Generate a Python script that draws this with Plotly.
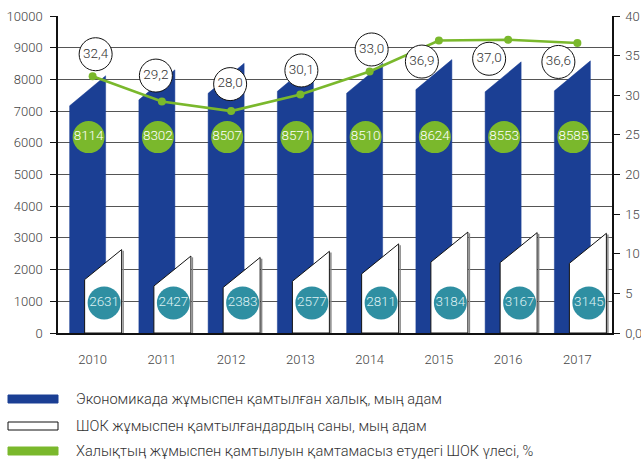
import plotly.graph_objects as go

# ---------------- data ----------------
years = ["2010", "2011", "2012", "2013", "2014", "2015", "2016", "2017"]
employed = [8114, 8302, 8507, 8571, 8510, 8624, 8553, 8585]          # thousand people
sme_employed = [2631, 2427, 2383, 2577, 2811, 3184, 3167, 3145]     # thousand people
sme_share = [32.4, 29.2, 28.0, 30.1, 33.0, 36.9, 37.0, 36.6]        # %
share_labels = ["32,4", "29,2", "28,0", "30,1", "33,0", "36,9", "37,0", "36,6"]

legend_names = [
    "Экономикада жұмыспен қамтылған халық, мың адам",
    "ШОК жұмыспен қамтылғандардың саны, мың адам",
    "Халықтың жұмыспен қамтылуын қамтамасыз етудегі ШОК үлесі, %",
]
y2_tickvals = [0, 5, 10, 15, 20, 25, 30, 35, 40]
y2_ticktext = ["0,0", "5", "10", "15", "20", "25", "30", "35", "40"]

# ---------------- style ----------------
W, H = 641, 460
ML, MR, MT, MB = 58, 29, 16, 127
PW, PH = W - ML - MR, H - MT - MB
N = len(years)
PX_X = PW / N                # px per category unit
PX_Y1 = PH / 10000           # px per thousand people
PX_Y2 = PH / 40              # px per percent

BLUE = "#1b3f94"
GREEN = "#7ab82c"
TEAL = "#2f8fa2"
FONT = "Roboto"
WT = 300

# bar geometry (in px, relative to category centre)
BLUE_L, BLUE_R = -23, 13
WHITE_L, WHITE_R = -8, 29
SLANT_PX = 30                # rise of slanted top in px
# label offsets (px) of line labels from markers
lab_dx = [3, -6, -1, 1, 2, -17, -19, -19]
lab_dy = [-22, -26, -27, -24, -22, 21, 19, 19]

idx = list(range(N))
fig = go.Figure()


def poly(values, left_px, right_px):
    xs, ys = [], []
    slant = SLANT_PX / PX_Y1
    for i, v in enumerate(values):
        xl = i + left_px / PX_X
        xr = i + right_px / PX_X
        xs += [xl, xl, xr, xr, xl, None]
        ys += [0, v - slant, v, 0, 0, None]
    return xs, ys


bx, by = poly(employed, BLUE_L, BLUE_R)
fig.add_trace(go.Scatter(x=bx, y=by, fill="toself", fillcolor=BLUE, mode="lines",
                         line=dict(color=BLUE, width=0.5), hoverinfo="skip", showlegend=False))

wx, wy = poly(sme_employed, WHITE_L, WHITE_R)
fig.add_trace(go.Scatter(x=wx, y=wy, fill="toself", fillcolor="white", mode="lines",
                         line=dict(color="#111", width=1), hoverinfo="skip", showlegend=False))
# grey shadow on the right edge of white bars
gx, gy = [], []
for i, v in enumerate(sme_employed):
    xr = i + (WHITE_R + 1.5) / PX_X
    gx += [xr, xr, None]
    gy += [0, v - 40, None]
fig.add_trace(go.Scatter(x=gx, y=gy, mode="lines", line=dict(color="#888", width=1.5),
                         hoverinfo="skip", showlegend=False))

# value circles on bars
fig.add_trace(go.Scatter(
    x=[i + ((BLUE_L + BLUE_R) / 2 + 1) / PX_X for i in idx], y=[6180] * N,
    mode="markers+text", marker=dict(size=32, color=GREEN),
    text=[str(v) for v in employed], textposition="middle center",
    textfont=dict(family=FONT, size=13.5, color="white", weight=WT),
    hoverinfo="skip", showlegend=False))
fig.add_trace(go.Scatter(
    x=[i + ((WHITE_L + WHITE_R) / 2 + 1) / PX_X for i in idx], y=[950] * N,
    mode="markers+text", marker=dict(size=33, color=TEAL),
    text=[str(v) for v in sme_employed], textposition="middle center",
    textfont=dict(family=FONT, size=13.5, color="#dff1f3", weight=WT),
    hoverinfo="skip", showlegend=False))

# share line
fig.add_trace(go.Scatter(x=idx, y=sme_share, yaxis="y2", mode="lines+markers",
                         line=dict(color=GREEN, width=2.6), marker=dict(size=8, color=GREEN),
                         hoverinfo="skip", showlegend=False))
fig.add_trace(go.Scatter(
    x=[i + lab_dx[i] / PX_X for i in idx],
    y=[sme_share[i] - lab_dy[i] / PX_Y2 for i in idx], yaxis="y2",
    mode="markers+text", marker=dict(size=33, color="white", line=dict(color="#111", width=1)),
    text=share_labels, textposition="middle center",
    textfont=dict(family=FONT, size=13.5, color="#333", weight=WT),
    hoverinfo="skip", showlegend=False))

# ---------------- legend (drawn manually) ----------------
def px2paper_x(px):
    return (px - ML) / PW


def px2paper_y(py):
    return (MT + PH - py) / PH


leg_y = [399, 426, 451]
leg_fill = [BLUE, "white", GREEN]
leg_line = [BLUE, "#111", GREEN]
for k in range(3):
    fig.add_shape(type="rect", xref="paper", yref="paper",
                  x0=px2paper_x(8), x1=px2paper_x(58),
                  y0=px2paper_y(leg_y[k] - 4), y1=px2paper_y(leg_y[k] + 4),
                  fillcolor=leg_fill[k], line=dict(color=leg_line[k], width=1))
    fig.add_annotation(xref="paper", yref="paper", x=px2paper_x(74), y=px2paper_y(leg_y[k]),
                       text=legend_names[k], showarrow=False, xanchor="left", yanchor="middle",
                       font=dict(family=FONT, size=14.6, color="#333", weight=WT))

tickfont = dict(family=FONT, size=13, color="#444", weight=WT)
fig.update_layout(
    width=W, height=H, margin=dict(l=ML, r=MR, t=MT, b=MB, autoexpand=False),
    paper_bgcolor="white", plot_bgcolor="white",
    font=dict(family=FONT, size=13, color="#444", weight=WT),
    xaxis=dict(range=[-0.5, N - 0.5], tickvals=idx, ticktext=years, showgrid=False,
               zeroline=False, showline=True, linecolor="#111", linewidth=2, tickfont=tickfont,
               ticks="", ticklabelstandoff=13, fixedrange=True, automargin=False),
    yaxis=dict(range=[0, 10000], dtick=1000, tickformat="d", showgrid=True,
               gridcolor="#555", gridwidth=1, tickfont=tickfont,
               zeroline=False, showline=True, linecolor="#111", linewidth=1.5,
               ticks="outside", ticklen=6, tickcolor="#111", ticklabelstandoff=5,
               fixedrange=True, automargin=False),
    yaxis2=dict(range=[0, 40], overlaying="y", side="right", tickvals=y2_tickvals,
                ticktext=y2_ticktext, showgrid=False, zeroline=False, showline=True,
                linecolor="#111", linewidth=1.5, ticks="outside", ticklen=6, tickfont=tickfont,
                tickcolor="#111", ticklabelstandoff=3, fixedrange=True, automargin=False),
)

fig.write_html("out.html", config={"displayModeBar": False},
               post_script="document.body.style.margin='0';document.body.style.overflow='hidden';")
